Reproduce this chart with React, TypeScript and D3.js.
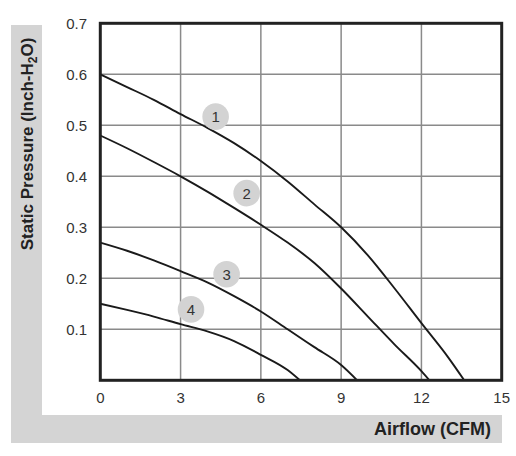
import React from 'react';
import * as d3 from 'd3';

const xTicks = [0, 3, 6, 9, 12, 15];
const yTicks = [0.1, 0.2, 0.3, 0.4, 0.5, 0.6, 0.7];

const curve1 = [[0, 0.6], [1, 0.575], [2, 0.55], [3, 0.522], [4, 0.495], [5, 0.465], [6, 0.43], [7, 0.39], [8, 0.345], [9, 0.3], [10, 0.245], [11, 0.18], [12, 0.112], [13, 0.045], [13.6, 0]];
const curve2 = [[0, 0.48], [1, 0.455], [2, 0.428], [3, 0.4], [4, 0.37], [5, 0.338], [6, 0.305], [7, 0.27], [8, 0.23], [9, 0.18], [10, 0.125], [11, 0.07], [12, 0.018], [12.3, 0]];
const curve3 = [[0, 0.27], [1, 0.254], [2, 0.235], [3, 0.214], [4, 0.192], [5, 0.165], [6, 0.135], [7, 0.1], [8, 0.065], [9, 0.03], [9.6, 0]];
const curve4 = [[0, 0.15], [1, 0.138], [2, 0.125], [3, 0.11], [4, 0.096], [5, 0.077], [6, 0.05], [7, 0.02], [7.46, 0]];

const curves = [curve1, curve2, curve3, curve4];
const labelNames = ['1', '2', '3', '4'];
const labelPos = [[4.31, 0.517], [5.47, 0.367], [4.72, 0.208], [3.39, 0.139]];

const W = 516;
const H = 456;
const font = 'Liberation Sans, Arial, sans-serif';

export default function App() {
  const x = d3.scaleLinear().domain([0, 15]).range([100.3, 501.7]);
  const y = d3.scaleLinear().domain([0, 0.7]).range([380.3, 23.3]);

  const line = d3.line<number[]>()
    .x(d => x(d[0]))
    .y(d => y(d[1]))
    .curve(d3.curveMonotoneX);

  return (
    <svg width={W} height={H} style={{ position: 'absolute', left: 0, top: 0 }} fontFamily={font}>
      <rect width={W} height={H} fill="#fff" />
      {/* grey L-shaped frame */}
      <rect x={11} y={25} width={31} height={418} fill="#d4d4d4" />
      <rect x={11} y={415} width={491} height={28} fill="#d4d4d4" />

      {/* grid */}
      {xTicks.slice(1, -1).map(t => (
        <line key={'gx' + t} x1={x(t)} x2={x(t)} y1={y(0.7)} y2={y(0)} stroke="#8a8a8a" strokeWidth={1.5} />
      ))}
      {yTicks.slice(0, -1).map(t => (
        <line key={'gy' + t} x1={x(0)} x2={x(15)} y1={y(t)} y2={y(t)} stroke="#8a8a8a" strokeWidth={1.5} />
      ))}

      {/* curves */}
      {curves.map((c, i) => (
        <path key={'c' + i} d={line(c) || ''} fill="none" stroke="#1a1a1a" strokeWidth={1.9} />
      ))}

      {/* curve labels */}
      {labelPos.map((p, i) => (
        <g key={'l' + i} transform={`translate(${x(p[0])},${y(p[1])})`}>
          <circle r={13.3} fill="#d3d3d3" />
          <text textAnchor="middle" dy="0.36em" fontSize={15} fill="#333">{labelNames[i]}</text>
        </g>
      ))}

      {/* plot border */}
      <rect x={x(0)} y={y(0.7)} width={x(15) - x(0)} height={y(0) - y(0.7)} fill="none" stroke="#222" strokeWidth={3} />

      {/* tick labels */}
      {yTicks.map(t => (
        <text key={'ty' + t} x={87} y={y(t)} dy="0.35em" textAnchor="end" fontSize={15} fill="#333">{t.toFixed(1)}</text>
      ))}
      {xTicks.map(t => (
        <text key={'tx' + t} x={x(t)} y={403} textAnchor="middle" fontSize={15} fill="#333">{t}</text>
      ))}

      {/* axis titles */}
      <text x={491} y={435} textAnchor="end" fontSize={18} fontWeight="bold" fill="#222">Airflow (CFM)</text>
      <text transform="translate(33,144) rotate(-90)" textAnchor="middle" fontSize={17} fontWeight="bold" fill="#222">
        Static Pressure (Inch-H<tspan fontSize={12} dy={4}>2</tspan><tspan dy={-4}>O)</tspan>
      </text>
    </svg>
  );
}
